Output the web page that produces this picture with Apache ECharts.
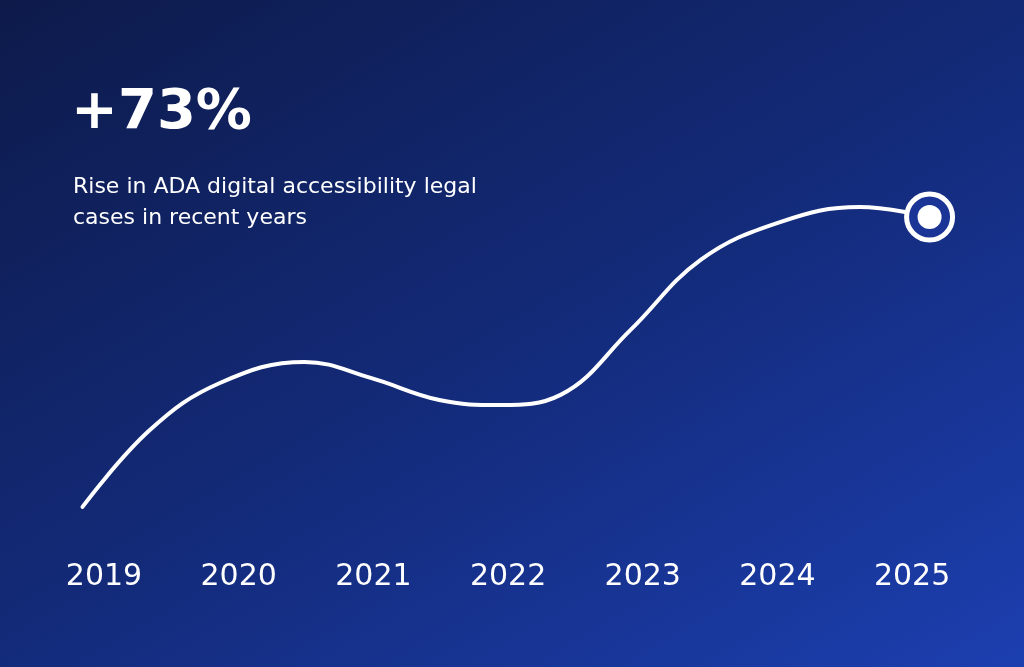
<!DOCTYPE html>
<html><head><meta charset="utf-8">
<script src="https://cdn.jsdelivr.net/npm/echarts@6/dist/echarts.min.js"></script>
<style>html,body{margin:0;padding:0;}#c{width:1024px;height:667px;background:linear-gradient(150deg,#0d1a4a 0%,#132a78 50%,#1c3fb0 100%);}</style>
</head><body><div id="c"></div>
<script>
const years = ['2019','2020','2021','2022','2023','2024','2025'];
const curveX = [2018.84,2019.34,2019.86,2020.49,2020.98,2021.49,2021.94,2022.39,2022.91,2023.43,2024.02,2024.61,2025.13];
const curveY = [4.1,28.1,42.8,49.4,44.4,37.5,35.9,39.1,59.4,81.3,93.1,97.8,94.7];
const title = '+73%';
const subtitle = 'Rise in ADA digital accessibility legal\ncases in recent years';
const pts = curveX.map((x,i)=>[x,curveY[i]]);
const last = [pts[pts.length-1]];
const F = 'DejaVu Sans';
const chart = echarts.init(document.getElementById('c'));
chart.setOption({
  title:[{text:title,left:66,top:80,textStyle:{color:'#fff',fontSize:56,fontWeight:'bold',fontFamily:F}},
         {text:subtitle,left:68,top:167,textStyle:{color:'#fff',fontSize:22,fontWeight:'normal',fontFamily:F,lineHeight:31}}],
  grid:{left:36.7,width:942.7,top:200,bottom:147},
  xAxis:[{type:'category',data:years,boundaryGap:true,axisLine:{show:false},axisTick:{show:false},
          axisLabel:{color:'#fff',fontSize:30,fontFamily:F,margin:42}},
         {type:'value',min:2018.5,max:2025.5,show:false}],
  yAxis:{type:'value',min:0,max:100,show:false},
  series:[
    {type:'line',xAxisIndex:1,data:pts,smooth:0.4,symbol:'none',lineStyle:{color:'#fff',width:4,cap:'round'}},
    {type:'scatter',xAxisIndex:1,data:last,symbolSize:46,itemStyle:{color:'#1b3596',borderColor:'#fff',borderWidth:5,opacity:1},z:5},
    {type:'scatter',xAxisIndex:1,data:last,symbolSize:24,itemStyle:{color:'#fff',opacity:1},z:6}
  ]
});
</script></body></html>
